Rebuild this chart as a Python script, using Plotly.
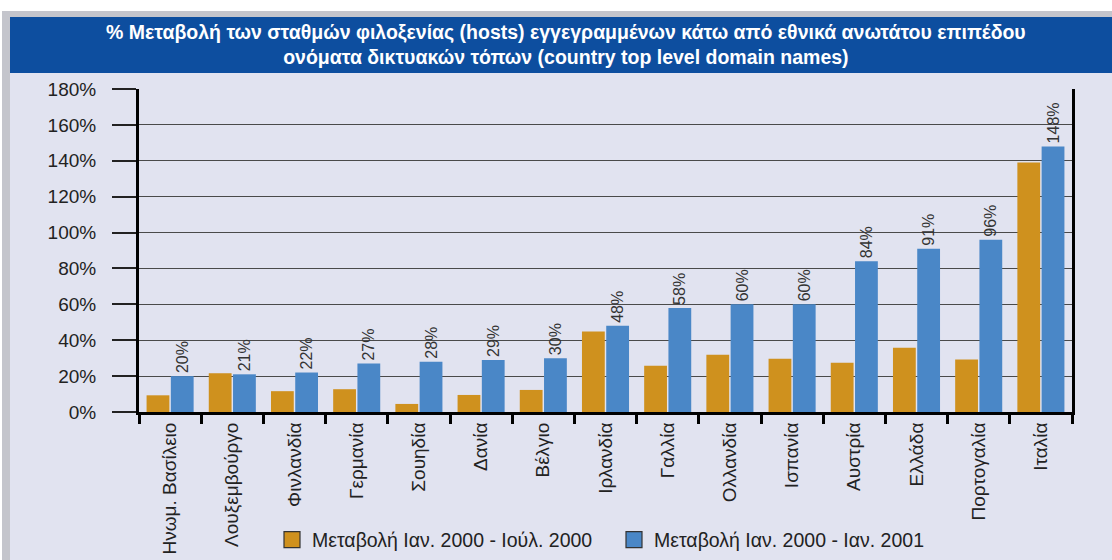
import plotly.graph_objects as go

countries = ["Ηνωμ. Βασίλειο", "Λουξεμβούργο", "Φινλανδία", "Γερμανία", "Σουηδία",
             "Δανία", "Βέλγιο", "Ιρλανδία", "Γαλλία", "Ολλανδία", "Ισπανία",
             "Αυστρία", "Ελλάδα", "Πορτογαλία", "Ιταλία"]
change_jan_jul_2000 = [9.3, 21.6, 11.6, 12.7, 4.5, 9.5, 12.3, 44.8, 25.8, 31.9,
                       29.7, 27.5, 35.8, 29.2, 139.1]
change_jan2000_jan2001 = [20, 21, 22, 27, 28, 29, 30, 48, 58, 60, 60, 84, 91, 96, 148]
series_names = ["Μεταβολή Ιαν. 2000 - Ιούλ. 2000", "Μεταβολή Ιαν. 2000 - Ιαν. 2001"]
y_ticks = [0, 20, 40, 60, 80, 100, 120, 140, 160, 180]
y_tick_labels = [f"{v}%" for v in y_ticks]
title_text = ("% Μεταβολή των σταθμών φιλοξενίας (hosts) εγγεγραμμένων κάτω από εθνικά ανωτάτου επιπέδου"
              "<br>ονόματα δικτυακών τόπων (country top level domain names)")

ORANGE = "#CF911E"
BLUE = "#4A87C7"
FONT = "Liberation Sans Narrow, Arial Narrow, Liberation Sans, sans-serif"

W, H = 1112, 560
L, R, T, B = 139, 1072, 89, 412


def px(x):
    return (x - L) / (R - L)


def py(y):
    return (B - y) / (B - T)


fig = go.Figure()
fig.add_trace(go.Bar(x=countries, y=change_jan_jul_2000, name=series_names[0],
                     marker=dict(color=ORANGE, line=dict(width=0)), showlegend=False))
fig.add_trace(go.Bar(x=countries, y=change_jan2000_jan2001, name=series_names[1],
                     marker=dict(color=BLUE, line=dict(width=0)), showlegend=False,
                     text=[f"{v}%" for v in change_jan2000_jan2001],
                     textposition="outside", textangle=-90, constraintext="none",
                     textfont=dict(family=FONT, size=16, color="#333333"),
                     cliponaxis=False))
# legend entries
for name, col in zip(series_names, [ORANGE, BLUE]):
    fig.add_trace(go.Scatter(x=[None], y=[None], mode="markers", name=name,
                             marker=dict(symbol="square", size=18, color=col,
                                         line=dict(color="#333333", width=1.2))))

shapes = [
    # shadow
    dict(type="rect", xref="paper", yref="paper", x0=px(2), x1=px(1120), y0=py(570), y1=py(11),
         fillcolor="#c4c5cc", line=dict(width=0), layer="below"),
    # panel
    dict(type="rect", xref="paper", yref="paper", x0=px(10), x1=px(1120), y0=py(570), y1=py(17),
         fillcolor="#e1e3f0", line=dict(width=0), layer="below"),
    # title bar
    dict(type="rect", xref="paper", yref="paper", x0=px(10), x1=px(1120), y0=py(73), y1=py(17),
         fillcolor="#0D4E9F", line=dict(width=0), layer="below"),
]

fig.update_layout(
    width=W, height=H,
    margin=dict(l=L, r=W - R, t=T, b=H - B, autoexpand=False),
    paper_bgcolor="white",
    plot_bgcolor="#eceef7",
    barmode="group",
    bargap=0.22,
    bargroupgap=0.06,
    shapes=shapes,
    annotations=[dict(text=title_text, xref="paper", yref="paper", x=px(566), y=py(45),
                      xanchor="center", yanchor="middle", showarrow=False,
                      font=dict(family=FONT, size=19.5, color="white", weight="bold"))],
    font=dict(family=FONT, color="#222222"),
    legend=dict(orientation="h", x=px(272), y=py(540), xanchor="left", yanchor="middle",
                font=dict(family=FONT, size=19.5, color="#222222"), bgcolor="rgba(0,0,0,0)",
                itemwidth=30, tracegroupgap=0, entrywidth=297, entrywidthmode="pixels"),
    xaxis=dict(showline=True, linecolor="black", linewidth=3, ticks="outside",
               tickson="boundaries", ticklen=9, tickwidth=3, tickcolor="black",
               tickangle=-90, tickfont=dict(family=FONT, size=19, color="#222222"),
               showgrid=False, fixedrange=True, automargin=False),
    yaxis=dict(range=[0, 180], tickvals=y_ticks, ticktext=y_tick_labels,
               showline=True, linecolor="black", linewidth=3, mirror=True,
               ticks="outside", ticklen=24, tickwidth=2, tickcolor="#222222",
               ticklabelstandoff=12,
               tickfont=dict(family=FONT, size=19, color="#222222"),
               showgrid=True, gridcolor="#4a4a4a", gridwidth=1, zeroline=False,
               fixedrange=True, automargin=False),
)

fig.write_html("out.html", config={"displayModeBar": False},
               post_script="document.body.style.margin='0';document.body.style.overflow='hidden';")
